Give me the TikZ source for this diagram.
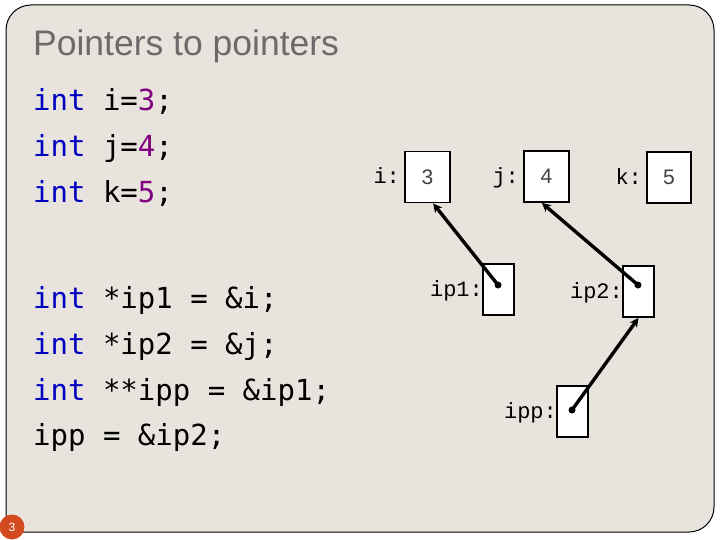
\documentclass[tikz,border=0pt]{standalone}
\usepackage{fontspec}
\setmainfont{Liberation Sans}
\newfontfamily\codefont{DejaVu Sans Mono}
\newfontfamily\labfont{Liberation Mono}
\usetikzlibrary{arrows.meta}
\definecolor{slidebg}{HTML}{E8E4DD}
\definecolor{kwblue}{HTML}{0000C0}
\definecolor{numpurple}{HTML}{800080}
\definecolor{titlegray}{HTML}{6B6B6B}
\definecolor{badge}{HTML}{D24A1E}
\tikzset{
  codeline/.style={anchor=base west, inner sep=0pt, font=\codefont\fontsize{29}{31}\selectfont},
  membox/.style={draw, fill=white, line width=1.8pt, inner sep=0pt, minimum width=31pt, minimum height=51pt},
  valbox/.style={membox, minimum width=45pt, font=\fontsize{21}{22}\selectfont, text=black!75},
  varlab/.style={anchor=base east, inner sep=0pt, yshift=-7pt, font=\labfont\fontsize{22}{23}\selectfont},
  ptr/.style={line width=3.4pt, -{Stealth[length=9pt,width=9pt]}},
}
\newcommand{\kw}[1]{\textcolor{kwblue}{#1}}
\newcommand{\nm}[1]{\textcolor{numpurple}{#1}}
\begin{document}
\begin{tikzpicture}[x=1pt,y=-1pt]
\useasboundingbox (0,0) rectangle (720,540);
\fill[white] (0,0) rectangle (720,540);
% slide frame
\draw[fill=slidebg, line width=1pt] (6,300) [rounded corners=25pt] -- (6,5) -- (714,5) -- (714,532) -- (300,532) [sharp corners] -- (6,532) -- cycle;
% title
\node[anchor=base west, inner sep=0pt, text=titlegray, font=\fontsize{35.5}{37}\selectfont] (title) at (33,56) {Pointers to pointers};
% code
\node[codeline] (c1) at (33,111) {\kw{int} i=\nm{3};};
\node[codeline] (c2) at (33,157) {\kw{int} j=\nm{4};};
\node[codeline] (c3) at (33,203) {\kw{int} k=\nm{5};};
\node[codeline] (c4) at (33,308) {\kw{int} *ip1 = \&i;};
\node[codeline] (c5) at (33,354) {\kw{int} *ip2 = \&j;};
\node[codeline] (c6) at (33,400) {\kw{int} **ipp = \&ip1;};
\node[codeline] (c7) at (33,445) {ipp = \&ip2;};
% memory boxes
\node[valbox] (bi) at (427.5,177) {3};
\node[valbox] (bj) at (546.5,176.5) {4};
\node[valbox, minimum width=44pt] (bk) at (669,177.5) {5};
\node[membox] (bip1) at (498.5,289.5) {};
\node[membox] (bip2) at (638.5,291.5) {};
\node[membox] (bipp) at (572.5,411.5) {};
% labels
\node[varlab, xshift=-4pt] (li) at (bi.west) {i:};
\node[varlab, xshift=-4pt] (lj) at (bj.west) {j:};
\node[varlab, xshift=-4pt] (lk) at (bk.west) {k:};
\node[varlab, xshift=1pt] (lip1) at (bip1.west) {ip1:};
\node[varlab, xshift=1pt] (lip2) at (bip2.west) {ip2:};
\node[varlab, xshift=1pt] (lipp) at (bipp.west) {ipp:};
% pointer origins
\coordinate (d1) at (498,285);
\coordinate (d2) at (638,285);
\coordinate (d3) at (572,410);
\fill (d1) circle (3.5pt);
\fill (d2) circle (3.5pt);
\fill (d3) circle (3.5pt);
\draw[ptr] (d1) -- (bi.-78);
\draw[ptr] (d2) -- (bj.-100);
\draw[ptr] (d3) -- (bip2.south);
% page badge
\node[circle, fill=badge, minimum size=25pt, inner sep=0pt, text=white, font=\fontsize{12}{12}\selectfont] (pg) at (12,527) {3};
\end{tikzpicture}
\end{document}
